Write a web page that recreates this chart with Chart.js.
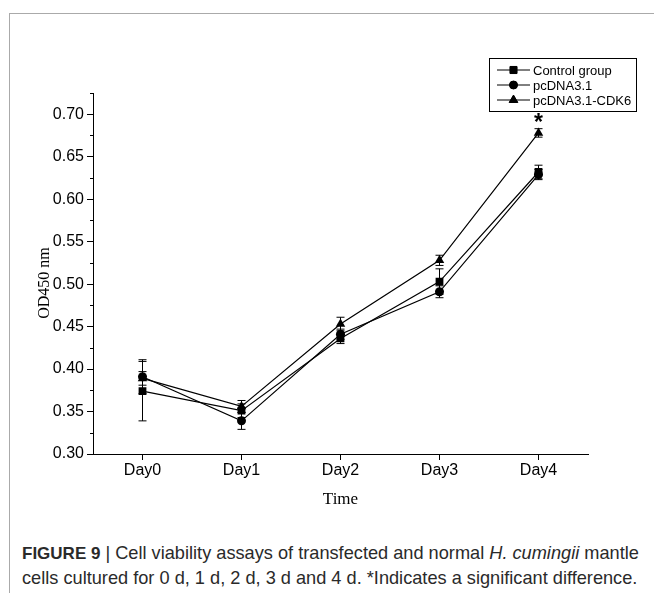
<!DOCTYPE html>
<html>
<head>
<meta charset="utf-8">
<script src="https://cdn.jsdelivr.net/npm/chart.js@4.4.1/dist/chart.umd.min.js"></script>
<style>
  html, body { margin: 0; padding: 0; background: #fff; }
  #wrap { position: relative; width: 654px; height: 593px; overflow: hidden; }
  #frame { position: absolute; left: 9px; top: 13px; right: 0; bottom: 0; border-left: 1px solid #aaa; border-top: 1px solid #aaa; }
  #chartBox { position: absolute; left: 0; top: 0; width: 654px; height: 530px; }
  #caption { position: absolute; left: 22px; top: 541px; width: 630px; font-family: "Liberation Sans", Arial, sans-serif; font-size: 18.2px; line-height: 24px; color: #2a2a2a; white-space: nowrap; }
  #caption b { font-size: 17px; }
</style>
</head>
<body>
<div id="wrap">
  <div id="frame"></div>
  <div id="chartBox"><canvas id="myChart" width="654" height="530"></canvas></div>
  <div id="caption"><b>FIGURE 9</b> | Cell viability assays of transfected and normal <i>H. cumingii</i> mantle<br>cells cultured for 0 d, 1 d, 2 d, 3 d and 4 d. *Indicates a significant difference.</div>
</div>
<script>
// x軸
const days = ['Day0', 'Day1', 'Day2', 'Day3', 'Day4'];

// OD450 平均値
const controlGroup = [0.374, 0.351, 0.436, 0.503, 0.632];
const pcDNA = [0.391, 0.339, 0.441, 0.491, 0.629];
const pcDNACDK6 = [0.389, 0.356, 0.453, 0.528, 0.678];

// 誤差 (±)
const controlErr = [0.035, 0.008, 0.006, 0.015, 0.008];
const pcDNAErr = [0.020, 0.010, 0.006, 0.007, 0.006];
const cdk6Err = [0.008, 0.007, 0.008, 0.006, 0.005];

const yTicks = [0.30, 0.35, 0.40, 0.45, 0.50, 0.55, 0.60, 0.65, 0.70];
const yMinorTicks = [0.325, 0.375, 0.425, 0.475, 0.525, 0.575, 0.625, 0.675, 0.725];

const seriesNames = ['Control group', 'pcDNA3.1', 'pcDNA3.1-CDK6'];
const markers = ['rect', 'circle', 'triangle'];
const markerSize = [5.5, 4.5, 5.5];
const errors = [controlErr, pcDNAErr, cdk6Err];
const starAt = 4; // Day4 significant

// error bars + minor ticks + star + legend + y title
const extras = {
    id: 'extras',
    afterDatasetsDraw(chart) {
        const ctx = chart.ctx;
        const x = chart.scales.x;
        const y = chart.scales.y;
        ctx.save();
        ctx.strokeStyle = '#000';
        ctx.lineWidth = 1;

        // 誤差棒
        chart.data.datasets.forEach((ds, di) => {
            ds.data.forEach((v, i) => {
                const px = x.getPixelForValue(i);
                const top = y.getPixelForValue(v + errors[di][i]);
                const bot = y.getPixelForValue(v - errors[di][i]);
                ctx.beginPath();
                ctx.moveTo(px, top); ctx.lineTo(px, bot);
                ctx.moveTo(px - 4, top); ctx.lineTo(px + 4, top);
                ctx.moveTo(px - 4, bot); ctx.lineTo(px + 4, bot);
                ctx.stroke();
            });
        });

        // minor ticks
        ctx.beginPath();
        yMinorTicks.forEach(t => {
            const py = Math.round(y.getPixelForValue(t)) + 0.5;
            ctx.moveTo(y.right - 3, py); ctx.lineTo(y.right, py);
        });
        ctx.stroke();

        // *
        const sx = x.getPixelForValue(starAt);
        const sy = y.getPixelForValue(pcDNACDK6[starAt] + cdk6Err[starAt]);
        ctx.fillStyle = '#000';
        ctx.font = 'bold 23px "Liberation Sans", Arial';
        ctx.textAlign = 'center';
        ctx.textBaseline = 'alphabetic';
        ctx.fillText('*', sx, sy + 1);

        // y title
        ctx.save();
        ctx.translate(45, 283);
        ctx.rotate(-Math.PI / 2);
        ctx.font = '16px "Liberation Serif", serif';
        ctx.textBaseline = 'middle';
        ctx.fillText('OD450 nm', 0, 0);
        ctx.restore();

        // legend
        const lx = 489.5, ly = 58.5, lw = 147, lh = 53;
        ctx.strokeRect(lx, ly, lw, lh);
        ctx.font = '13px "Liberation Sans", Arial';
        ctx.textAlign = 'left';
        ctx.textBaseline = 'middle';
        seriesNames.forEach((name, i) => {
            const iy = 70 + i * 15;
            ctx.beginPath();
            ctx.moveTo(497, iy); ctx.lineTo(530, iy);
            ctx.stroke();
            Chart.helpers.drawPoint(ctx, {
                pointStyle: markers[i], radius: markerSize[i] - 0.5, rotation: 0, borderWidth: 1
            }, 513.5, iy);
            ctx.fill();
            ctx.fillText(name, 533, iy + 1);
        });
        ctx.restore();
    }
};

const makeSet = (label, data, i) => ({
    label: label,
    data: data,
    borderColor: '#000',
    backgroundColor: '#000',
    borderWidth: 1.2,
    pointStyle: markers[i],
    pointRadius: markerSize[i],
    pointBorderWidth: 0,
    fill: false,
    tension: 0
});

const config = {
    type: 'line',
    data: {
        labels: days,
        datasets: [
            makeSet(seriesNames[0], controlGroup, 0),
            makeSet(seriesNames[1], pcDNA, 1),
            makeSet(seriesNames[2], pcDNACDK6, 2)
        ]
    },
    options: {
        responsive: false,
        animation: false,
        layout: { padding: { left: 20, right: 66, top: 93, bottom: 20 } },
        plugins: {
            legend: { display: false },
            tooltip: { enabled: false }
        },
        scales: {
            x: {
                offset: true,
                border: { color: '#000', width: 1 },
                grid: { display: true, drawOnChartArea: false, tickLength: 6, tickColor: '#000' },
                ticks: { color: '#000', font: { family: 'Liberation Sans', size: 16 }, padding: 1 },
                title: { display: true, text: 'Time', color: '#000', font: { family: 'Liberation Serif', size: 17 }, padding: { top: 6, bottom: 0 } },
                afterFit: s => { s.height = 56; }
            },
            y: {
                min: 0.30,
                max: 0.725,
                border: { color: '#000', width: 1 },
                grid: { display: true, drawOnChartArea: false, tickLength: 6, tickColor: '#000' },
                ticks: {
                    color: '#000',
                    font: { family: 'Liberation Sans', size: 16 },
                    padding: 3,
                    callback: v => v.toFixed(2)
                },
                afterBuildTicks: s => { s.ticks = yTicks.map(v => ({ value: v })); },
                afterFit: s => { s.width = 73; }
            }
        }
    },
    plugins: [extras]
};

new Chart(document.getElementById('myChart'), config);
</script>
</body>
</html>
